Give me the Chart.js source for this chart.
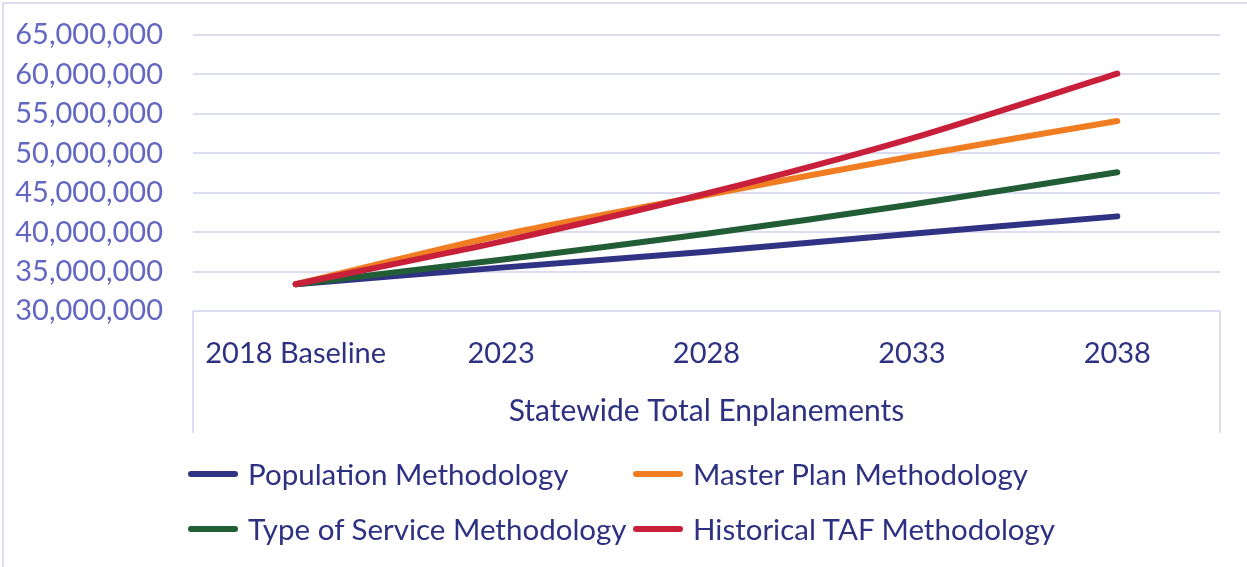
<!DOCTYPE html>
<html>
<head>
<meta charset="utf-8">
<script src="https://cdn.jsdelivr.net/npm/chart.js@4/dist/chart.umd.min.js"></script>
<style>
  html, body { margin: 0; padding: 0; background: #fff; }
  #wrap { position: relative; width: 1247px; height: 567px; overflow: hidden; }
  #frame { position: absolute; left: 2px; top: 2px; width: 1300px; height: 700px; border: 2px solid #DCDCF0; box-sizing: border-box; pointer-events: none; }
  canvas { position: absolute; left: 0; top: 0; }
  #legend { position: absolute; left: 188px; top: 446px; display: grid; grid-template-columns: 445px auto; grid-auto-rows: 55px; font-family: Lato, sans-serif; font-size: 29.5px; color: #2E3182; }
  .item { display: flex; align-items: center; white-space: nowrap; }
  .swatch { display: inline-block; width: 50px; height: 6px; border-radius: 3px; margin-right: 10px; }
</style>
</head>
<body>
<div id="wrap">
  <canvas id="c" width="1247" height="567"></canvas>
  <div id="frame"></div>
  <div id="legend"></div>
</div>
<script>
const categories = ["2018 Baseline", "2023", "2028", "2033", "2038"];
const seriesNames = ["Population Methodology", "Master Plan Methodology", "Type of Service Methodology", "Historical TAF Methodology"];
const population = [33400000, 35500000, 37500000, 39800000, 42000000];
const masterPlan = [33400000, 39600000, 44700000, 49600000, 54100000];
const typeOfService = [33400000, 36500000, 39800000, 43500000, 47600000];
const historicalTAF = [33400000, 38800000, 44900000, 51900000, 60100000];
const yMin = 30000000, yMax = 65000000, yStep = 5000000;
const xTitle = "Statewide Total Enplanements";

const colors = ["#303383", "#F07D22", "#215E36", "#C8203A"];
const drawOrder = [3, 1, 2, 0];
const values = [population, masterPlan, typeOfService, historicalTAF];

const textColor = "#2E3182";
const tickColor = "#6367C2";
const gridColor = "#DCDCF0";

const boxPlugin = {
  id: "catBox",
  beforeDatasetsDraw(chart) {
    const { ctx, chartArea } = chart;
    const xs = chart.scales.x;
    ctx.save();
    ctx.strokeStyle = gridColor;
    ctx.lineWidth = 2;
    ctx.beginPath();
    ctx.moveTo(chartArea.left, chartArea.bottom);
    ctx.lineTo(chartArea.left, xs.bottom);
    ctx.moveTo(chartArea.right, chartArea.bottom);
    ctx.lineTo(chartArea.right, xs.bottom);
    ctx.stroke();
    ctx.restore();
  }
};

const chart = new Chart(document.getElementById("c"), {
  type: "line",
  data: {
    labels: categories,
    datasets: values.map((v, i) => ({
      label: seriesNames[i],
      data: v,
      borderColor: colors[i],
      backgroundColor: colors[i],
      borderWidth: 6,
      borderCapStyle: "round",
      borderJoinStyle: "round",
      pointRadius: 0,
      tension: 0.25,
      fill: false,
      order: drawOrder[i]
    }))
  },
  options: {
    responsive: false,
    animation: false,
    devicePixelRatio: 1,
    layout: { padding: { top: 35, right: 27, bottom: 134, left: 0 } },
    plugins: { legend: { display: false }, tooltip: { enabled: false } },
    scales: {
      x: {
        type: "category",
        offset: true,
        grid: { display: false, drawTicks: false },
        border: { display: false },
        ticks: { font: { family: "Lato", size: 29 }, color: textColor, padding: 25, maxRotation: 0, autoSkip: false },
        title: { display: true, text: xTitle, font: { family: "Lato", size: 30 }, color: textColor, padding: { top: 20, bottom: 4 } },
        afterFit(scale) { scale.height = 122; }
      },
      y: {
        min: yMin, max: yMax,
        ticks: {
          stepSize: yStep,
          autoSkip: false,
          font: { family: "Lato", size: 29 },
          color: tickColor,
          padding: 0,
          callback: (v) => Number(v).toLocaleString("en-US")
        },
        grid: { color: gridColor, lineWidth: 2, drawTicks: true, tickLength: 30, tickColor: "rgba(0,0,0,0)" },
        border: { display: false },
        afterFit(scale) { scale.width = 193; }
      }
    }
  },
  plugins: [boxPlugin]
});

const legend = document.getElementById("legend");
seriesNames.forEach((name, i) => {
  const d = document.createElement("div");
  d.className = "item";
  const s = document.createElement("span");
  s.className = "swatch";
  s.style.background = colors[i];
  d.appendChild(s);
  d.appendChild(document.createTextNode(name));
  legend.appendChild(d);
});
</script>
</body>
</html>
